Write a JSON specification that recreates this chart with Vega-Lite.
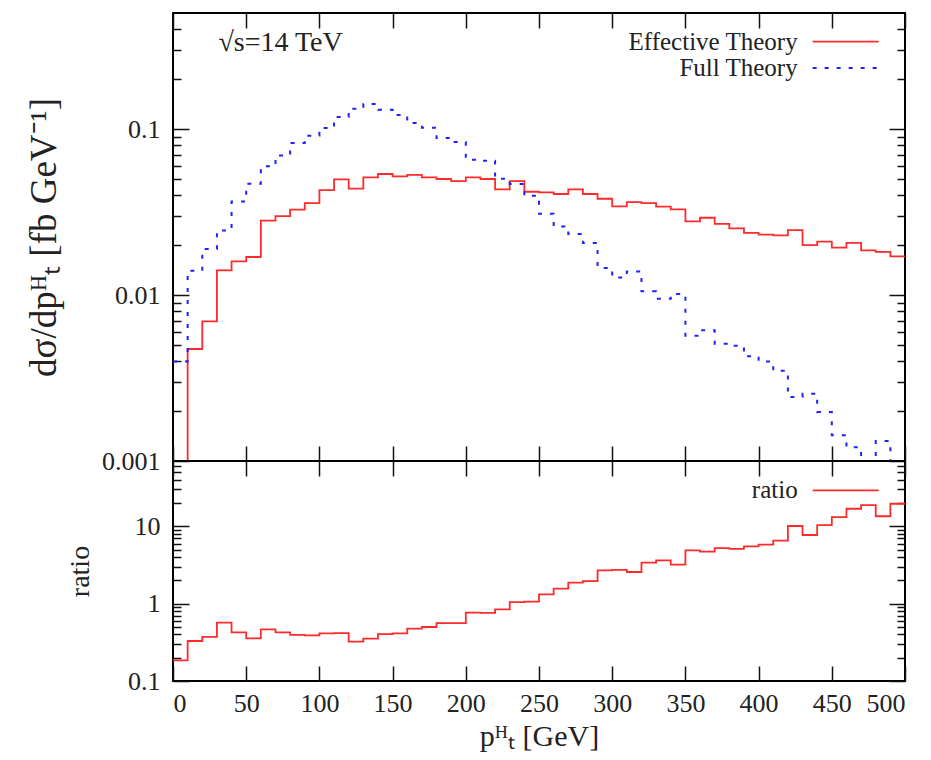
{
  "$schema": "https://vega.github.io/schema/vega-lite/v6.json",
  "padding": {"left": 24, "top": 11, "right": 5, "bottom": 5},
  "bounds": "flush",
  "spacing": 0,
  "background": "white",
  "config": {
    "view": {"stroke": "black", "strokeWidth": 2},
    "axis": {"grid": false, "domain": false, "labelFont": "Liberation Serif", "labelFontSize": 26, "labelColor": "#222", "tickColor": "#111", "tickWidth": 1.5, "titleFont": "Liberation Serif", "titleFontWeight": "normal", "titleColor": "#222"},
    "text": {"font": "Liberation Serif", "fontSize": 26, "color": "#222"}
  },
  "datasets": {
    "spec": [
      {"pt": 0, "eff": 0.0008, "full": 0.00398, "ratio": 0.185},
      {"pt": 10, "eff": 0.00473, "full": 0.0140, "ratio": 0.329},
      {"pt": 20, "eff": 0.00693, "full": 0.0189, "ratio": 0.371},
      {"pt": 30, "eff": 0.01406, "full": 0.0245, "ratio": 0.568},
      {"pt": 40, "eff": 0.01594, "full": 0.0366, "ratio": 0.426},
      {"pt": 50, "eff": 0.01694, "full": 0.0468, "ratio": 0.356},
      {"pt": 60, "eff": 0.02805, "full": 0.0596, "ratio": 0.466},
      {"pt": 70, "eff": 0.0299, "full": 0.0693, "ratio": 0.426},
      {"pt": 80, "eff": 0.0327, "full": 0.0824, "ratio": 0.394},
      {"pt": 90, "eff": 0.0358, "full": 0.0911, "ratio": 0.39},
      {"pt": 100, "eff": 0.0429, "full": 0.1014, "ratio": 0.414},
      {"pt": 110, "eff": 0.0497, "full": 0.118, "ratio": 0.416},
      {"pt": 120, "eff": 0.0437, "full": 0.1325, "ratio": 0.323},
      {"pt": 130, "eff": 0.0511, "full": 0.1414, "ratio": 0.353},
      {"pt": 140, "eff": 0.0536, "full": 0.1307, "ratio": 0.405},
      {"pt": 150, "eff": 0.0518, "full": 0.1214, "ratio": 0.414},
      {"pt": 160, "eff": 0.0530, "full": 0.1086, "ratio": 0.475},
      {"pt": 170, "eff": 0.0511, "full": 0.1018, "ratio": 0.499},
      {"pt": 180, "eff": 0.0500, "full": 0.0883, "ratio": 0.562},
      {"pt": 190, "eff": 0.0486, "full": 0.0835, "ratio": 0.562},
      {"pt": 200, "eff": 0.0511, "full": 0.0653, "ratio": 0.766},
      {"pt": 210, "eff": 0.0500, "full": 0.0645, "ratio": 0.76},
      {"pt": 220, "eff": 0.0433, "full": 0.0502, "ratio": 0.845},
      {"pt": 230, "eff": 0.0486, "full": 0.0466, "ratio": 1.05},
      {"pt": 240, "eff": 0.0419, "full": 0.0396, "ratio": 1.06},
      {"pt": 250, "eff": 0.0415, "full": 0.0309, "ratio": 1.32},
      {"pt": 260, "eff": 0.0406, "full": 0.0259, "ratio": 1.57},
      {"pt": 270, "eff": 0.0433, "full": 0.0233, "ratio": 1.87},
      {"pt": 280, "eff": 0.0406, "full": 0.0206, "ratio": 1.96},
      {"pt": 290, "eff": 0.0380, "full": 0.01455, "ratio": 2.70},
      {"pt": 300, "eff": 0.0342, "full": 0.01276, "ratio": 2.73},
      {"pt": 310, "eff": 0.0363, "full": 0.01388, "ratio": 2.57},
      {"pt": 320, "eff": 0.0358, "full": 0.01052, "ratio": 3.39},
      {"pt": 330, "eff": 0.0341, "full": 0.0095, "ratio": 3.64},
      {"pt": 340, "eff": 0.0328, "full": 0.01014, "ratio": 3.19},
      {"pt": 350, "eff": 0.0278, "full": 0.00569, "ratio": 4.9},
      {"pt": 360, "eff": 0.0292, "full": 0.00613, "ratio": 4.7},
      {"pt": 370, "eff": 0.0268, "full": 0.00509, "ratio": 5.24},
      {"pt": 380, "eff": 0.0252, "full": 0.00495, "ratio": 5.1},
      {"pt": 390, "eff": 0.0237, "full": 0.00427, "ratio": 5.51},
      {"pt": 400, "eff": 0.0231, "full": 0.00398, "ratio": 5.8},
      {"pt": 410, "eff": 0.0229, "full": 0.0035, "ratio": 6.53},
      {"pt": 420, "eff": 0.0246, "full": 0.00243, "ratio": 10.1},
      {"pt": 430, "eff": 0.0200, "full": 0.00254, "ratio": 7.73},
      {"pt": 440, "eff": 0.0210, "full": 0.00197, "ratio": 10.4},
      {"pt": 450, "eff": 0.0193, "full": 0.00143, "ratio": 13.2},
      {"pt": 460, "eff": 0.0206, "full": 0.00121, "ratio": 16.9},
      {"pt": 470, "eff": 0.0186, "full": 0.00095, "ratio": 18.8},
      {"pt": 480, "eff": 0.0182, "full": 0.00132, "ratio": 13.5},
      {"pt": 490, "eff": 0.0171, "full": 0.00087, "ratio": 19.6},
      {"pt": 500, "eff": 0.0171, "full": 0.00087, "ratio": 19.6}
    ]
  },
  "vconcat": [
    {
      "width": 732,
      "height": 448,
      "layer": [
        {
          "data": {"name": "spec"},
          "mark": {"type": "line", "interpolate": "step-after", "color": "#ff2a2a", "strokeWidth": 1.8, "clip": true},
          "encoding": {
            "x": {"field": "pt", "type": "quantitative", "scale": {"domain": [0, 500], "nice": false, "zero": false},
                  "axis": {"orient": "bottom", "values": [0, 50, 100, 150, 200, 250, 300, 350, 400, 450, 500], "labels": false, "tickSize": -15, "title": null}},
            "y": {"field": "eff", "type": "quantitative", "scale": {"type": "log", "domain": [0.001, 0.5], "nice": false},
                  "axis": {"orient": "left", "values": [0.001, 0.01, 0.1], "format": "~g", "tickSize": -16, "labelPadding": 29, "title": "dσ/dpᴴₜ [fb GeV⁻¹]", "titleFontSize": 37, "titlePadding": 38}}
          }
        },
        {
          "data": {"name": "spec"},
          "mark": {"type": "line", "interpolate": "step-after", "color": "#2020ff", "strokeWidth": 2, "strokeDash": [4, 8], "clip": true},
          "encoding": {
            "x": {"field": "pt", "type": "quantitative", "axis": {"orient": "top", "values": [0, 50, 100, 150, 200, 250, 300, 350, 400, 450, 500], "labels": false, "tickSize": -15, "title": null}},
            "y": {"field": "full", "type": "quantitative", "axis": {"orient": "left", "values": [0.002, 0.003, 0.004, 0.005, 0.006, 0.007, 0.008, 0.009, 0.02, 0.03, 0.04, 0.05, 0.06, 0.07, 0.08, 0.09, 0.2, 0.3, 0.4], "labels": false, "tickSize": -8, "title": null}}
          }
        },
        {
          "data": {"name": "spec"},
          "mark": {"type": "line", "opacity": 0},
          "encoding": {
            "x": {"field": "pt", "type": "quantitative", "axis": null},
            "y": {"field": "eff", "type": "quantitative", "axis": {"orient": "right", "values": [0.001, 0.01, 0.1], "labels": false, "tickSize": -16, "title": null}}
          }
        },
        {
          "data": {"name": "spec"},
          "mark": {"type": "line", "opacity": 0},
          "encoding": {
            "x": {"field": "pt", "type": "quantitative", "axis": null},
            "y": {"field": "eff", "type": "quantitative", "axis": {"orient": "right", "values": [0.002, 0.003, 0.004, 0.005, 0.006, 0.007, 0.008, 0.009, 0.02, 0.03, 0.04, 0.05, 0.06, 0.07, 0.08, 0.09, 0.2, 0.3, 0.4], "labels": false, "tickSize": -8, "title": null}}
          }
        },
        {
          "data": {"values": [{"label": "√s=14 TeV"}]},
          "mark": {"type": "text", "align": "left", "baseline": "middle", "fontSize": 28},
          "encoding": {
            "x": {"datum": 31, "axis": null},
            "y": {"datum": 0.33, "axis": null},
            "text": {"field": "label"}
          }
        },
        {
          "data": {"values": [{"label": "Effective Theory", "y": 0.336}, {"label": "Full Theory", "y": 0.2331}]},
          "mark": {"type": "text", "align": "right", "baseline": "middle", "fontSize": 25},
          "encoding": {
            "x": {"datum": 426.7, "axis": null},
            "y": {"field": "y", "type": "quantitative", "axis": null},
            "text": {"field": "label"}
          }
        },
        {
          "data": {"values": [{"y": 0.336}]},
          "mark": {"type": "rule", "color": "#ff2a2a", "strokeWidth": 1.8},
          "encoding": {
            "x": {"datum": 436.9, "axis": null},
            "x2": {"datum": 482},
            "y": {"field": "y", "type": "quantitative", "axis": null}
          }
        },
        {
          "data": {"values": [{"y": 0.2331}]},
          "mark": {"type": "rule", "color": "#2020ff", "strokeWidth": 2, "strokeDash": [4, 8]},
          "encoding": {
            "x": {"datum": 436.9, "axis": null},
            "x2": {"datum": 482},
            "y": {"field": "y", "type": "quantitative", "axis": null}
          }
        }
      ],
      "resolve": {"axis": {"x": "independent", "y": "independent"}}
    },
    {
      "width": 732,
      "height": 220,
      "layer": [
        {
          "data": {"name": "spec"},
          "mark": {"type": "line", "interpolate": "step-after", "color": "#ff2a2a", "strokeWidth": 1.8, "clip": true},
          "encoding": {
            "x": {"field": "pt", "type": "quantitative", "scale": {"domain": [0, 500], "nice": false, "zero": false},
                  "axis": {"orient": "bottom", "values": [0, 50, 100, 150, 200, 250, 300, 350, 400, 450, 500], "tickSize": -15, "labelPadding": 24, "title": "pᴴₜ [GeV]", "titleFontSize": 30, "titlePadding": 5}},
            "y": {"field": "ratio", "type": "quantitative", "scale": {"type": "log", "domain": [0.1, 70], "nice": false},
                  "axis": {"orient": "left", "values": [0.1, 1, 10], "format": "~g", "tickSize": -16, "labelPadding": 29, "title": "ratio", "titleFontSize": 28, "titlePadding": 33}}
          }
        },
        {
          "data": {"name": "spec"},
          "mark": {"type": "line", "opacity": 0},
          "encoding": {
            "x": {"field": "pt", "type": "quantitative", "axis": {"orient": "top", "values": [0, 50, 100, 150, 200, 250, 300, 350, 400, 450, 500], "labels": false, "tickSize": -15, "title": null}},
            "y": {"field": "ratio", "type": "quantitative", "axis": {"orient": "left", "values": [0.2, 0.3, 0.4, 0.5, 0.6, 0.7, 0.8, 0.9, 2, 3, 4, 5, 6, 7, 8, 9, 20, 30, 40, 50, 60], "labels": false, "tickSize": -8, "title": null}}
          }
        },
        {
          "data": {"name": "spec"},
          "mark": {"type": "line", "opacity": 0},
          "encoding": {
            "x": {"field": "pt", "type": "quantitative", "axis": null},
            "y": {"field": "ratio", "type": "quantitative", "axis": {"orient": "right", "values": [0.1, 1, 10], "labels": false, "tickSize": -16, "title": null}}
          }
        },
        {
          "data": {"name": "spec"},
          "mark": {"type": "line", "opacity": 0},
          "encoding": {
            "x": {"field": "pt", "type": "quantitative", "axis": null},
            "y": {"field": "ratio", "type": "quantitative", "axis": {"orient": "right", "values": [0.2, 0.3, 0.4, 0.5, 0.6, 0.7, 0.8, 0.9, 2, 3, 4, 5, 6, 7, 8, 9, 20, 30, 40, 50, 60], "labels": false, "tickSize": -8, "title": null}}
          }
        },
        {
          "data": {"values": [{"label": "ratio"}]},
          "mark": {"type": "text", "align": "right", "baseline": "middle", "fontSize": 25},
          "encoding": {
            "x": {"datum": 426.7, "axis": null},
            "y": {"datum": 29.2, "axis": null},
            "text": {"field": "label"}
          }
        },
        {
          "data": {"values": [{"y": 29.2}]},
          "mark": {"type": "rule", "color": "#ff2a2a", "strokeWidth": 1.8},
          "encoding": {
            "x": {"datum": 436.9, "axis": null},
            "x2": {"datum": 482},
            "y": {"field": "y", "type": "quantitative", "axis": null}
          }
        }
      ],
      "resolve": {"axis": {"x": "independent", "y": "independent"}}
    }
  ]
}
